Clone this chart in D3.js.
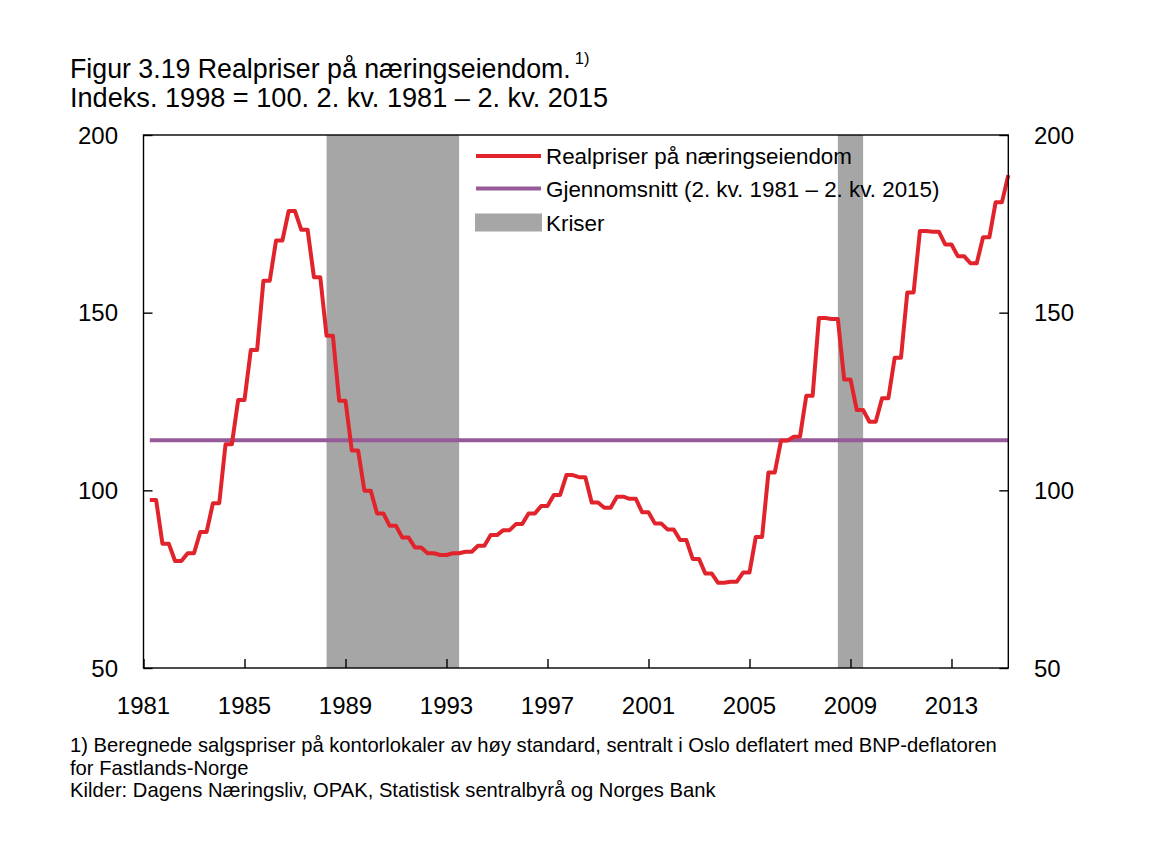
<!DOCTYPE html>
<html><head><meta charset="utf-8">
<script src="https://cdn.jsdelivr.net/npm/d3@7/dist/d3.min.js"></script>
<style>
body{margin:0;background:#fff;}
svg{display:block;font-family:"Liberation Sans",Arial,Helvetica,sans-serif;}
</style></head>
<body><svg id="c" width="1170" height="857"></svg>
<script>
// ---- data ----
const startYear = 1981, startQuarter = 2; // 2. kv. 1981
const realPrices = [
97.3,97.3, 85.0,85.0, 80.1,80.1, 82.3,82.3, 88.3,88.3, 96.4,96.4, 113.0,113.0, 125.4,125.4, 139.5,139.5, 159.0,159.0,
170.3,170.3, 178.6,178.6, 173.3,173.3, 160.0,160.0, 143.5,143.5, 125.2,125.2, 111.2,111.2, 99.9,99.9, 93.5,93.5, 90.0,90.0,
86.7,86.7, 83.9,83.9, 82.3,82.3, 81.8,81.8, 82.3,82.3, 82.7,82.7, 84.4,84.4, 87.4,87.4, 88.8,88.8, 90.5,90.5,
93.5,93.5, 95.6,95.6, 98.7,98.7, 104.3,104.3, 103.7,103.7, 96.6,96.6, 95.1,95.1, 98.2,98.2, 97.6,97.6, 93.8,93.8,
90.7,90.7, 89.0,89.0, 86.0,86.0, 80.7,80.7, 76.6,76.6, 74.0,74.0, 74.3,74.3, 76.9,76.9, 86.9,86.9, 105.0,105.0,
114.0,114.0, 115.1,115.1, 126.6,126.6, 148.5,148.5, 148.2,148.2, 131.2,131.2, 122.6,122.6, 119.3,119.3, 125.9,125.9, 137.3,137.3,
155.7,155.7, 173.0,173.0, 172.8,172.8, 169.2,169.2, 165.9,165.9, 163.9,163.9, 171.2,171.2, 181.1,181.1, 188.7
];
const averageValue = 114.1;
const crises = [[1988.25, 1993.5], [2008.5, 2009.5]];
const xTickYears = [1981, 1985, 1989, 1993, 1997, 2001, 2005, 2009, 2013];
const yTickValues = [50, 100, 150, 200];
const legendLabels = ["Realpriser på næringseiendom", "Gjennomsnitt (2. kv. 1981 – 2. kv. 2015)", "Kriser"];
const titleLines = ["Figur 3.19 Realpriser på næringseiendom.", "Indeks. 1998 = 100. 2. kv. 1981 – 2. kv. 2015"];
const footnotes = [
 "1) Beregnede salgspriser på kontorlokaler av høy standard, sentralt i Oslo deflatert med BNP-deflatoren",
 "for Fastlands-Norge",
 "Kilder: Dagens Næringsliv, OPAK, Statistisk sentralbyrå og Norges Bank"
];

// ---- layout ----
const L = 143.5, R = 1008.3, T = 135, B = 668;
const RED = "#e1242c", PURPLE = "#975a98", GREY = "#a6a6a6";
const svg = d3.select("#c");
const x = d3.scaleLinear().domain([1981, 2015.25]).range([L, R]);
const y = d3.scaleLinear().domain([50, 200]).range([B, T]);
const series = realPrices.map((v, i) => ({t: startYear + (startQuarter - 1) / 4 + i / 4, v}));
const t0 = series[0].t, t1 = series[series.length - 1].t;

function fit(sel, target) {
  const w = sel.node().getComputedTextLength();
  const fs = parseFloat(sel.attr("font-size"));
  sel.attr("font-size", (fs * target / w).toFixed(2));
}

// crises bands
svg.append("g").selectAll("rect").data(crises).join("rect")
  .attr("x", d => x(d[0])).attr("width", d => x(d[1]) - x(d[0]))
  .attr("y", T).attr("height", B - T).attr("fill", GREY);

// average line
svg.append("line").attr("x1", x(t0)).attr("x2", x(t1))
  .attr("y1", y(averageValue)).attr("y2", y(averageValue))
  .attr("stroke", PURPLE).attr("stroke-width", 4.2);

// price line
svg.append("path").datum(series)
  .attr("d", d3.line().x(d => x(d.t)).y(d => y(d.v)))
  .attr("fill", "none").attr("stroke", RED).attr("stroke-width", 4)
  .attr("stroke-linejoin", "round");

// frame
svg.append("rect").attr("x", L).attr("y", T).attr("width", R - L).attr("height", B - T)
  .attr("fill", "none").attr("stroke", "#000").attr("stroke-width", 1.4);

// axes (inward ticks)
const axL = svg.append("g").attr("transform", `translate(${L},0)`)
  .call(d3.axisRight(y).tickValues(yTickValues).tickSize(9).tickFormat(""));
const axR = svg.append("g").attr("transform", `translate(${R},0)`)
  .call(d3.axisLeft(y).tickValues(yTickValues).tickSize(9).tickFormat(""));
const axB = svg.append("g").attr("transform", `translate(0,${B})`)
  .call(d3.axisTop(x).tickValues(xTickYears).tickSize(9).tickFormat(""));
[axL, axR, axB].forEach(g => { g.select(".domain").remove(); g.selectAll("line").attr("stroke-width", 1.4); });

// tick labels
const fs = 24;
svg.append("g").selectAll("text").data(yTickValues).join("text")
  .attr("x", 118).attr("y", d => y(d) + 8.5).attr("text-anchor", "end")
  .attr("font-size", fs).text(d => d);
svg.append("g").selectAll("text").data(yTickValues).join("text")
  .attr("x", 1034).attr("y", d => y(d) + 8.5).attr("text-anchor", "start")
  .attr("font-size", fs).text(d => d);
svg.append("g").selectAll("text").data(xTickYears).join("text")
  .attr("x", d => x(d)).attr("y", 714).attr("text-anchor", "middle")
  .attr("font-size", fs).text(d => d);

// legend
const legY = [156, 188.5, 222.5];
const lg = svg.append("g");
lg.append("line").attr("x1", 476).attr("x2", 541).attr("y1", legY[0]).attr("y2", legY[0]).attr("stroke", RED).attr("stroke-width", 4);
lg.append("line").attr("x1", 476).attr("x2", 541).attr("y1", legY[1]).attr("y2", legY[1]).attr("stroke", PURPLE).attr("stroke-width", 4.2);
lg.append("rect").attr("x", 475).attr("y", legY[2] - 9).attr("width", 67).attr("height", 18).attr("fill", GREY);
const legT = lg.selectAll("text").data(legendLabels).join("text")
  .attr("x", 546).attr("y", (d, i) => legY[i] + 8).attr("font-size", 22).text(d => d);
fit(d3.select(legT.nodes()[0]), 306);
const lf = d3.select(legT.nodes()[0]).attr("font-size");
legT.attr("font-size", lf);

// title
const t1s = svg.append("text").attr("x", 70).attr("y", 78).attr("font-size", 25).text(titleLines[0]);
fit(t1s, 501);
const tfs = +t1s.attr("font-size");
svg.append("text").attr("x", 70 + t1s.node().getComputedTextLength() + 4).attr("y", 64)
  .attr("font-size", tfs * 0.62).text("1)");
const t2s = svg.append("text").attr("x", 70).attr("y", 107).attr("font-size", tfs).text(titleLines[1]);
fit(t2s, 538);

// footnotes
const fn = svg.append("g").selectAll("text").data(footnotes).join("text")
  .attr("x", 70).attr("y", (d, i) => 752 + i * 22.5).attr("font-size", 18).text(d => d);
fit(d3.select(fn.nodes()[0]), 927);
fn.attr("font-size", d3.select(fn.nodes()[0]).attr("font-size"));
</script></body></html>
